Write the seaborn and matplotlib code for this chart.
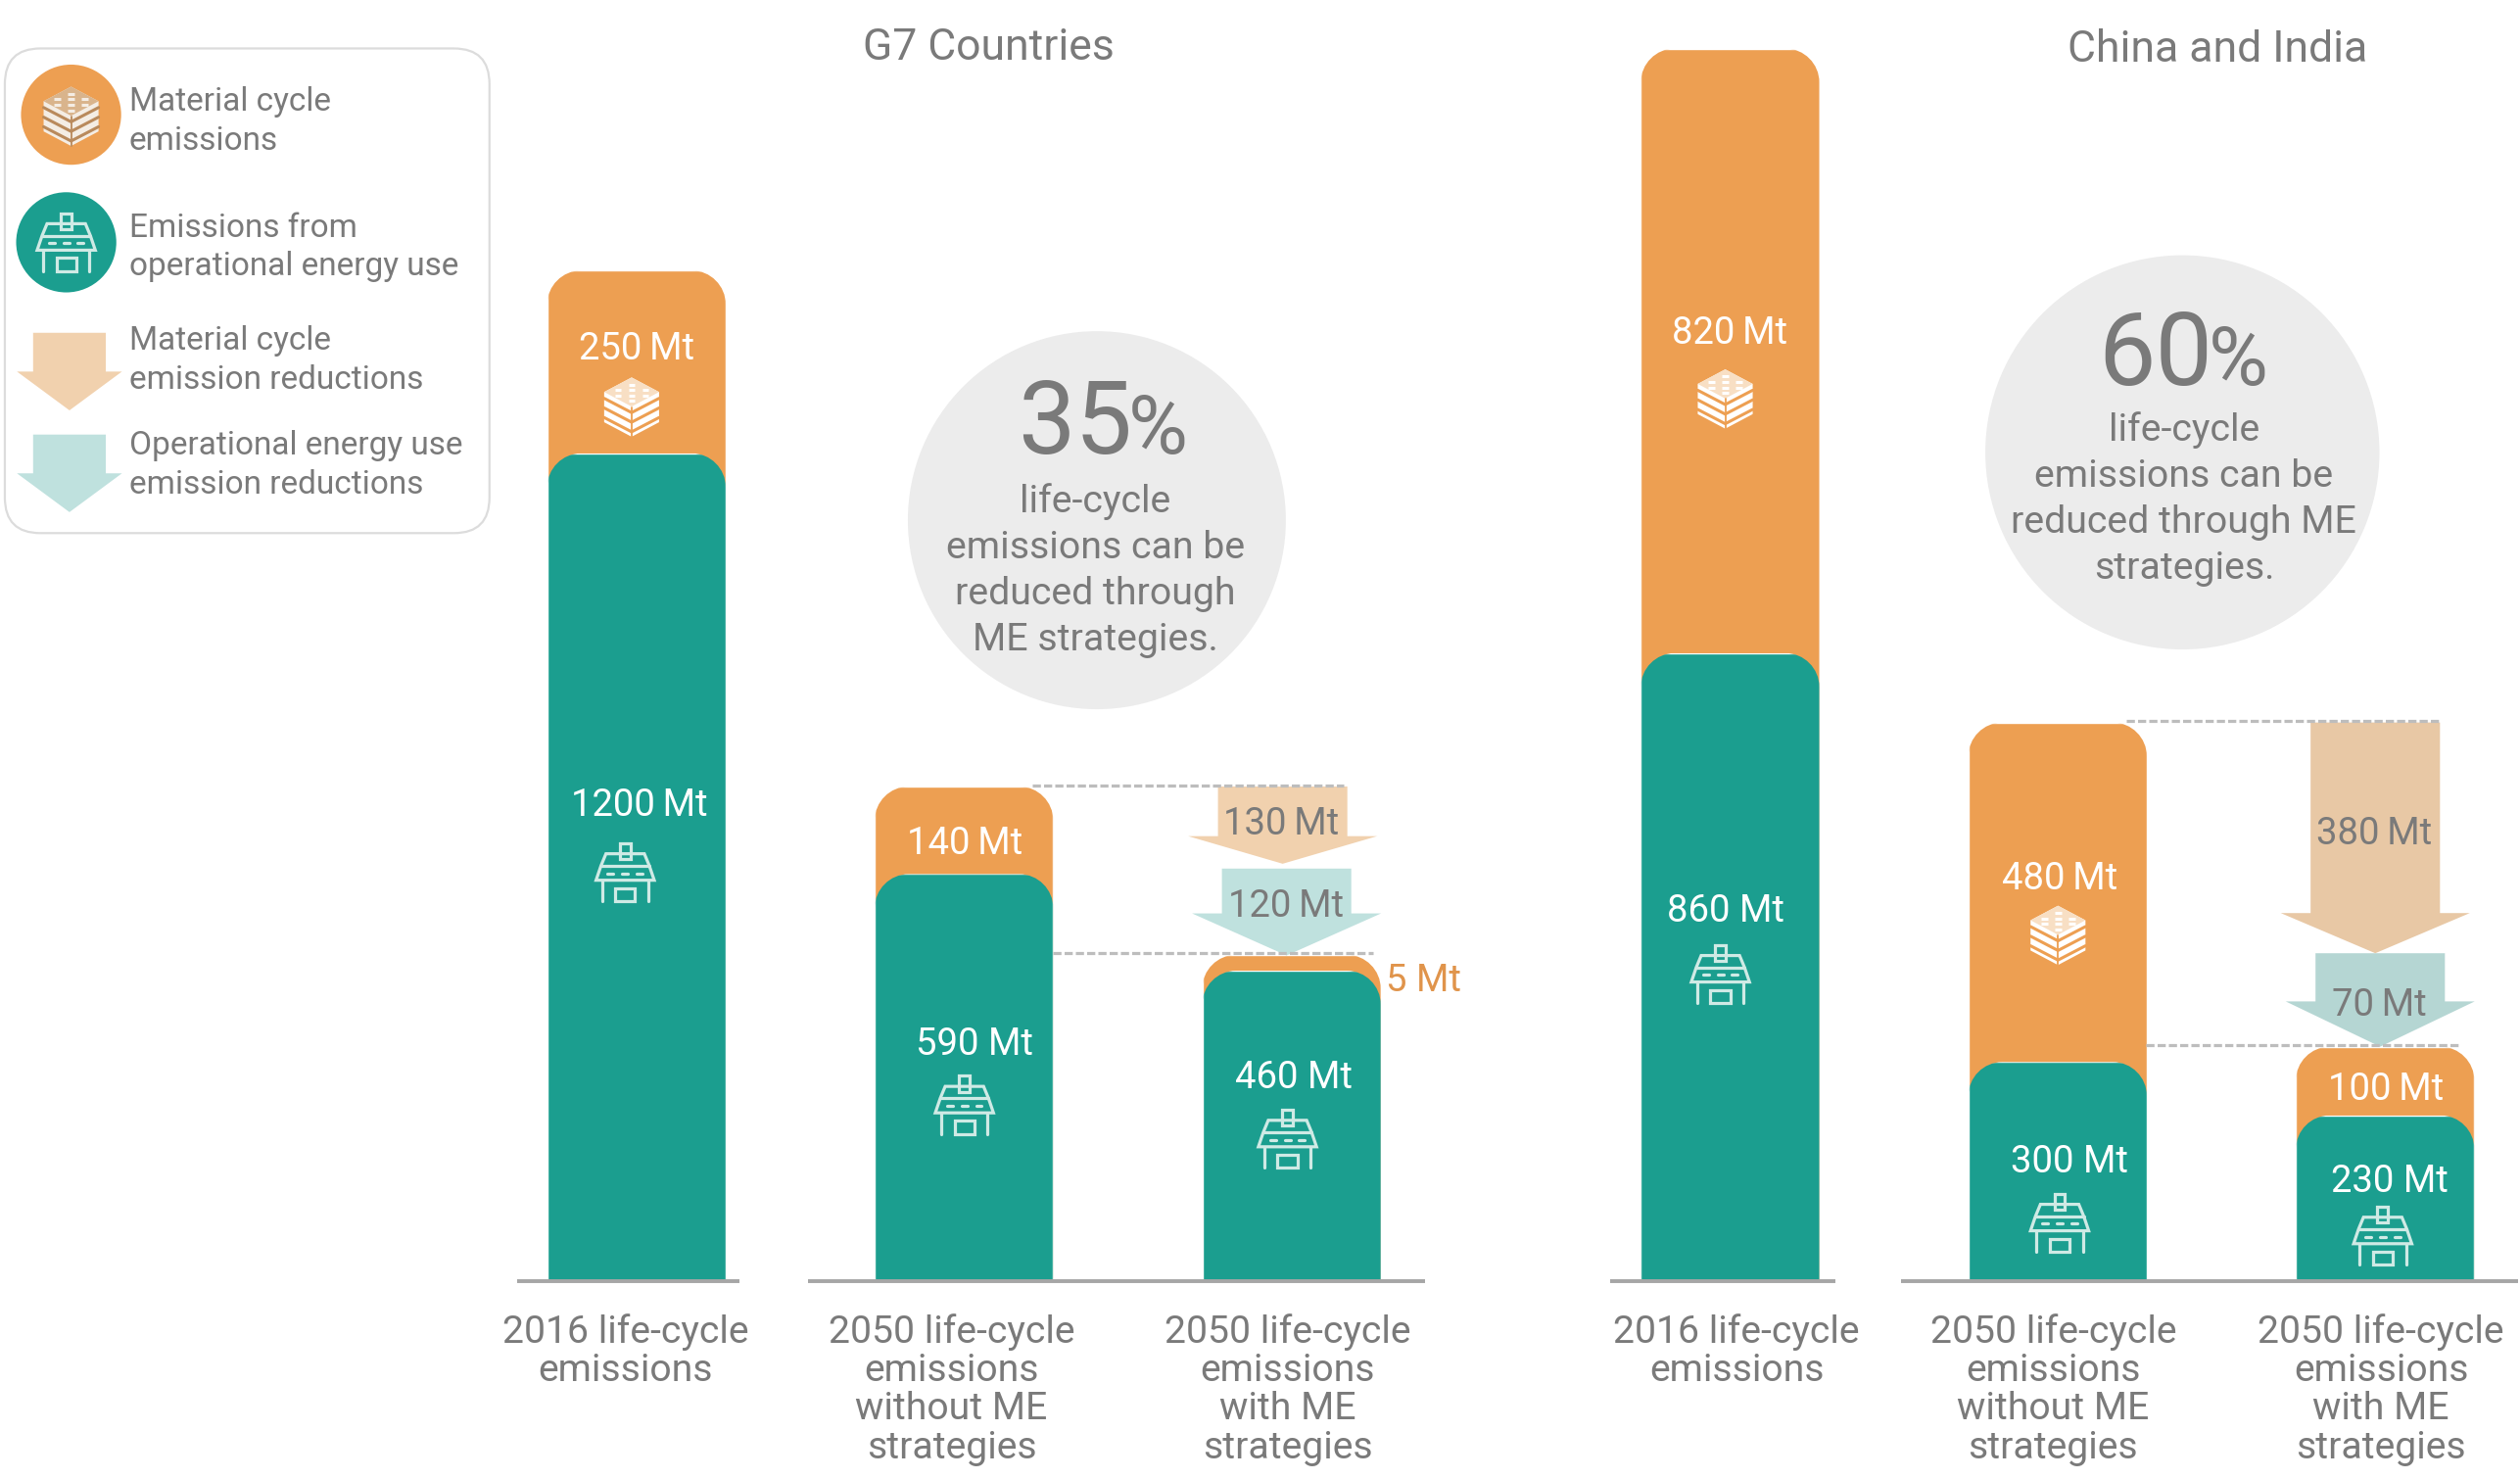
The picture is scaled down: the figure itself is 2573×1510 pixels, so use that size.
import matplotlib
matplotlib.use("Agg")
import matplotlib.pyplot as plt
import pandas as pd
import seaborn as sns
from matplotlib.patches import Circle, FancyBboxPatch, Polygon
from matplotlib.path import Path

# bar heights are read off the picture (the drawing is not quite to scale)
scenarios = ["2016", "2050 without ME", "2050 with ME"]
g7_operational = [1200, 590, 450]
g7_material = [265, 127, 23]
china_operational = [860, 300, 227]
china_material = [828, 465, 94]

g7_arrows = [112, 126]
china_arrows = [316, 128]

tick_labels = [
    ["2016 life-cycle", "emissions"],
    ["2050 life-cycle", "emissions", "without ME", "strategies"],
    ["2050 life-cycle", "emissions", "with ME", "strategies"],
]

ORANGE = "#ED9F52"
TEAL = "#1B9E8F"
GREY = "#7A7A7A"
ICON = "#CFEAE5"

FIG_W, FIG_H = 2573, 1510
# layout below is measured on a 1560 wide copy of the picture
SCALE = FIG_W / 1560
VIEW_H = FIG_H / SCALE
BASELINE = 793
CAT_STEP = 202.75
BAR_WIDTH = 110.5 / CAT_STEP

sns.set_style("white")
plt.rcParams["font.family"] = ["Roboto", "DejaVu Sans"]

fig = plt.figure(figsize=(FIG_W / 100, FIG_H / 100), dpi=100)


def rounded_top(bar, ax, radius=21):
    x0, x1 = bar.get_x(), bar.get_x() + bar.get_width()
    top = bar.get_height()
    _, y_max = ax.get_ylim()
    rx = radius / CAT_STEP
    ry = radius * y_max / BASELINE
    k = 0.45
    verts = [(x0, 0), (x0, top - ry),
             (x0, top - ry * k), (x0 + rx * k, top), (x0 + rx, top),
             (x1 - rx, top),
             (x1 - rx * k, top), (x1, top - ry * k), (x1, top - ry),
             (x1, 0), (x0, 0)]
    codes = [Path.MOVETO, Path.LINETO,
             Path.CURVE4, Path.CURVE4, Path.CURVE4,
             Path.LINETO,
             Path.CURVE4, Path.CURVE4, Path.CURVE4,
             Path.LINETO, Path.CLOSEPOLY]
    return Path(verts, codes)


def bar_panel(first_center, px_per_mt, operational, material, xlim):
    left = first_center + xlim[0] * CAT_STEP
    right = first_center + xlim[1] * CAT_STEP
    ax = fig.add_axes([left / 1560, 1 - BASELINE / VIEW_H,
                       (right - left) / 1560, BASELINE / VIEW_H])
    df = pd.DataFrame({"scenario": scenarios, "operational": operational,
                       "material": material})
    df["total"] = df["operational"] + df["material"]
    sns.barplot(df, x="scenario", y="total", color=ORANGE, saturation=1,
                width=BAR_WIDTH, ax=ax)
    sns.barplot(df, x="scenario", y="operational", color=TEAL, saturation=1,
                width=BAR_WIDTH, ax=ax)
    ax.set_xlim(*xlim)
    ax.set_ylim(0, BASELINE / px_per_mt)
    for container in ax.containers:
        for bar in container:
            bar.set_clip_path(rounded_top(bar, ax), ax.transData)
    ax.axis("off")
    ax.patch.set_alpha(0)
    return ax, df


def down_arrow(ax, center, top, length, head, color, shaft=0.395, wing=0.577):
    bottom = top - length
    neck = bottom + head
    xs = [center - shaft / 2, center + shaft / 2, center + shaft / 2, center + wing / 2,
          center, center - wing / 2, center - shaft / 2]
    ys = [top, top, neck, neck, bottom, neck, neck]
    ax.fill(xs, ys, color=color, lw=0, zorder=3)


dash = dict(colors="#BDBDBD", linewidth=2.3, linestyles=[(0, (2.6, 1))], zorder=4)

g7_ax, g7_df = bar_panel(394, 0.427, g7_operational, g7_material, (-0.5, 2.5))
china_ax, china_df = bar_panel(1071, 0.452, china_operational, china_material, (-0.45, 2.4))

g7_start = g7_df["total"][1]
down_arrow(g7_ax, 1.973, g7_start, g7_arrows[0], 40, "#F1D1AE")
down_arrow(g7_ax, 1.985, g7_start - g7_arrows[0] - 7, g7_arrows[1], 61, "#BFE1DE")
g7_ax.hlines(g7_start + 2, 1.21, 2.16, **dash)
g7_ax.hlines(g7_df["total"][2] + 2, 1.27, 2.25, **dash)

china_start = china_df["total"][1]
down_arrow(china_ax, 1.97, china_start, china_arrows[0], 55, "#E8C8A5")
down_arrow(china_ax, 1.985, china_start - china_arrows[0], china_arrows[1], 62, "#B5D6D3")
china_ax.hlines(china_start + 2, 1.21, 2.17, **dash)
china_ax.hlines(china_df["total"][2] + 2, 1.27, 2.23, **dash)

# everything else sits on a see-through layer in picture units
over = fig.add_axes([0, 0, 1, 1])
over.set_xlim(0, 1560)
over.set_ylim(VIEW_H, 0)
over.axis("off")
over.patch.set_alpha(0)


def label(x, y, text, size=27.5, color="white", ha="center", va="center_baseline"):
    over.text(x, y, text, fontsize=size, color=color, ha=ha, va=va)


def stacked(x, y, lines, step=24, size=24, ha="center"):
    for i, line in enumerate(lines):
        label(x, y + i * step, line, size=size, color=GREY, ha=ha)


def house(x, y, s=18, color=ICON, lw=2.3):
    def pts(coords):
        return [(x + a * s, y + b * s) for a, b in coords]
    outline = dict(fill=False, ec=color, lw=lw, joinstyle="miter")
    over.add_patch(Polygon(pts([(-.18, -.64), (-.18, -1), (.18, -1), (.18, -.45), (-.18, -.45)]), **outline))
    over.add_patch(Polygon(pts([(-1, .27), (-.83, -.23), (-.66, -.64), (.66, -.64),
                                (.83, -.23), (1, .27)]), **outline))
    over.plot(*zip(*pts([(-.83, -.23), (.83, -.23)])), color=color, lw=lw)
    for a in (-.8, .8):
        over.plot(*zip(*pts([(a, .27), (a, 1)])), color=color, lw=lw)
    over.add_patch(Polygon(pts([(-.34, .54), (.34, .54), (.34, 1), (-.34, 1)]), **outline))
    for a in (-.5, 0, .5):
        over.plot(*zip(*pts([(a - .1, .03), (a + .1, .03)])), color=color, lw=lw)


def cube(x, y, s=17, color="white", gap=ORANGE, top="#F8DFC4"):
    def pts(coords):
        return [(x + a * s, y + b * s) for a, b in coords]
    over.add_patch(Polygon(pts([(0, -1.08), (1, -.55), (1, .55), (0, 1.08), (-1, .55), (-1, -.55)]),
                           fc=color, lw=0))
    over.add_patch(Polygon(pts([(0, -1.08), (1, -.55), (0, -.02), (-1, -.55)]), fc=top, lw=0))
    # dotted top face
    for row, half in [(-.82, .15), (-.62, .5), (-.42, .5), (-.22, .15)]:
        for a in (-half, 0, half) if half > .2 else (0,):
            over.plot(*zip(*pts([(a - .12, row), (a + .12, row)])), color=color, lw=2.2, solid_capstyle="butt")
    # stripes on the two side faces
    for level in (-.3, .05, .4):
        over.plot(*zip(*pts([(-1, level - .02), (0, level + .5), (1, level - .02)])),
                  color=gap, lw=2.2, solid_joinstyle="miter")
    over.plot(*zip(*pts([(0, 0), (0, 1.08)])), color=gap, lw=1.3)


def legend_arrow(center, top, color):
    xs = [center - 22.5, center + 22.5, center + 22.5, center + 32.5,
          center, center - 32.5, center - 22.5]
    ys = [top, top, top + 24, top + 24, top + 48, top + 24, top + 24]
    over.add_patch(Polygon(list(zip(xs, ys)), fc=color, lw=0))


# legend
over.add_patch(FancyBboxPatch((3, 30), 300, 300, boxstyle="round,pad=0,rounding_size=22",
                              fc="white", ec="#DCDCDC", lw=1.6))
over.add_patch(Circle((44, 71), 31, fc=ORANGE, lw=0))
cube(44, 72, s=17, color="#F4EDE4", gap="#B98A5C", top="#D9B48C")
over.add_patch(Circle((41, 150), 31, fc=TEAL, lw=0))
house(41, 150, s=18)
legend_arrow(43, 206, "#F1D1AE")
legend_arrow(43, 269, "#BFE1DE")
stacked(80, 61, ["Material cycle", "emissions"], ha="left")
stacked(80, 139, ["Emissions from", "operational energy use"], ha="left")
stacked(80, 209, ["Material cycle", "emission reductions"], ha="left")
stacked(80, 274, ["Operational energy use", "emission reductions"], ha="left")

# titles
label(612, 27, "G7 Countries", size=32, color=GREY)
label(1373, 28, "China and India", size=32, color=GREY)

# baselines
for x0, x1 in [(320, 458), (500, 882), (997, 1136), (1177, 1559)]:
    over.plot([x0, x1], [BASELINE, BASELINE], color="#A6A6A6", lw=2.8, solid_capstyle="butt")

# tick labels
for x, lines in zip([387, 589, 797, 1075, 1271, 1474], tick_labels * 2):
    stacked(x, 822, lines, size=28.2)

# value labels, thin space where the source has one
for x, y, text in [(394, 214, "250\u2009Mt"), (396, 496, "1200\u2009Mt"), (597, 520, "140\u2009Mt"),
                   (603, 644, "590 Mt"), (801, 665, "460 Mt"), (1071, 204, "820\u2009Mt"),
                   (1068, 562, "860 Mt"), (1275, 542, "480\u2009Mt"), (1281, 717, "300 Mt"),
                   (1477, 672, "100\u2009Mt"), (1479, 729, "230 Mt")]:
    label(x, y, text)
for x, y, text in [(793, 508, "130\u2009Mt"), (796, 559, "120\u2009Mt"),
                   (1470, 514, "380\u2009Mt"), (1473, 620, "70\u2009Mt")]:
    label(x, y, text, color=GREY)
label(881, 605, "5 Mt", color="#E0944B")

for x, y in [(387, 540), (597, 684), (797, 705), (1065, 603), (1275, 757), (1475, 765)]:
    house(x, y)
for x, y in [(391, 252), (1068, 247), (1274, 579)]:
    cube(x, y)

# call-out circles
for x, y, r, pct, pct_x, pct_y, body_x, body_y, lines in [
    (679, 322, 117, "35", 630, 281, 678, 308,
     ["life-cycle", "emissions can be", "reduced through", "ME strategies."]),
    (1351, 280, 122, "60", 1299, 238, 1352, 264,
     ["life-cycle", "emissions can be", "reduced through ME", "strategies."]),
]:
    over.add_patch(Circle((x, y), r, fc="#ECECEC", lw=0))
    label(pct_x, pct_y, pct, size=75, color=GREY, ha="left", va="baseline")
    label(pct_x + 68, pct_y, "%", size=60, color=GREY, ha="left", va="baseline")
    stacked(body_x, body_y, lines, step=28.6, size=28.3)

fig.savefig("out.png", dpi=100)
